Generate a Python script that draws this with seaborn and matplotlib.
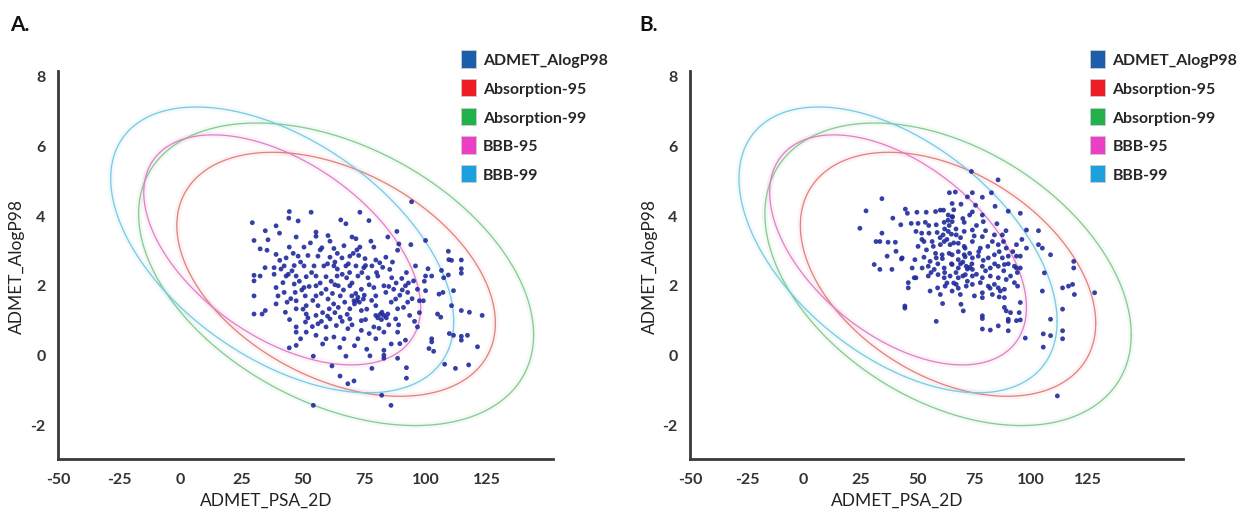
import numpy as np
import pandas as pd
import matplotlib
matplotlib.use("Agg")
import matplotlib.pyplot as plt
from matplotlib.patches import Patch
import seaborn as sns

# ---- scatter data: (PSA_2D, AlogP98) per compound ----
psa_a = [94.3, 44.4, 53.3, 73.2, 29.3, 48, 44.2, 65.4, 67.5, 76.9, 39, 34.6, 40.4, 47.2, 55.3, 55.3, 60.2, 61, 70, 71.6,
         77.7, 84.6, 88.3, 89.1, 94, 100, 30, 35.7, 44.4, 50.4, 57.7, 62.6, 66.7, 73.2, 78.9, 88.6, 109.3, 32.5, 35.3, 39,
         43.1, 48, 52, 56.1, 61, 65.9, 69.1, 72.7, 75.3, 79.7, 83.8, 109.5, 110.6, 114.6, 106.5, 109.3, 114.6, 114.6, 101, 100,
         95.9, 92.2, 85.4, 81.3, 78.1, 74.8, 71.6, 67.5, 62.6, 58.5, 54.5, 50.4, 46.4, 42.3, 38.2, 34.5, 30, 30, 32.5, 38.2,
         43.1, 47.2, 51.3, 55.3, 59.4, 63.9, 67.8, 72.4, 76.5, 80.5, 86.2, 90.3, 95.1, 102.5, 107.4, 30, 30, 33.3, 34.6, 39,
         39.8, 39, 41.8, 42.3, 42.8, 46.4, 46.8, 47.2, 47.2, 50.4, 50.9, 51.3, 51.3, 51, 47.2, 47.2, 51.3, 55.3, 55.3, 56.1,
         55.3, 56.1, 55.3, 59.4, 60.2, 60.7, 61, 59.4, 59.4, 64.4, 65.2, 64.4, 65.2, 63.6, 62.6, 69.1, 69.9, 70.8, 72.4, 69.1,
         69.1, 68.3, 66.7, 73.8, 74.6, 73.8, 73.8, 73.8, 72.4, 78.9, 79.7, 79.7, 79.7, 78.9, 79.7, 83, 83.8, 82.2, 83, 84.6,
         83, 83, 87, 87.8, 88.6, 87.8, 88.6, 89.5, 91.8, 92.7, 92.7, 93.5, 91.8, 96.7, 97.5, 96.7, 99.1, 100, 105.5, 107.1,
         104.9, 106.2, 110.6, 111.4, 114.6, 117.9, 123.1, 102.5, 102.5, 101.4, 103.3, 109.7, 111.4, 114.6, 117.1, 114.6, 121.2, 107.8,
         112.2, 117.6, 92.2, 92.2, 88.6, 83, 83, 78.1, 77.3, 67.5, 61.8, 65.1, 68.3, 70.8, 54.2, 44.4, 47.2, 82.1, 85.9, 54.2,
         45.5, 48.5, 49.5, 52.5, 53.5, 54, 57, 57.5, 58, 61.5, 62, 62.5, 63, 64, 66, 66.5, 67, 68, 70, 71,
         71.5, 72, 73, 74, 75, 76, 77, 78, 80.5, 81.5, 82, 84, 85, 86, 88, 89.5, 90.5, 93, 45, 44,
         41, 40.5, 46, 49, 53, 57, 60, 64, 68.5, 70.5, 72, 75.5, 80, 82.5, 86.5, 50, 52, 53.8, 57.5, 60,
         63, 66, 70, 75.5, 77, 81, 85, 89, 91, 94.5, 95.5, 97.5, 99.5, 43.5, 44.5, 49, 58, 65, 71, 76,
         86, 63, 69]
alogp_a = [4.38, 4.10, 4.08, 4.08, 3.78, 3.83, 3.91, 3.86, 3.75, 3.84, 3.69, 3.55, 3.48, 3.37, 3.51, 3.39, 3.41, 3.25, 3.37, 3.32,
           3.25, 3.37, 3.53, 3.17, 3.15, 3.27, 3.27, 3.29, 3.08, 3.08, 3.06, 3.04, 3.12, 3.08, 3.08, 2.99, 2.96, 3.03, 2.99, 2.87,
           2.77, 2.82, 2.84, 2.82, 2.79, 2.77, 2.82, 2.84, 2.75, 2.71, 2.79, 2.72, 2.70, 2.71, 2.41, 2.28, 2.46, 2.33, 2.46, 2.25,
           2.54, 2.35, 2.44, 2.63, 2.54, 2.49, 2.54, 2.54, 2.54, 2.54, 2.54, 2.54, 2.55, 2.54, 2.49, 2.49, 2.27, 2.11, 2.25, 2.3,
           2.25, 2.25, 2.23, 2.25, 2.23, 2.25, 2.20, 2.25, 2.20, 2.25, 2.20, 2.18, 2.11, 2.25, 2.2, 1.68, 1.16, 1.16, 1.26, 1.92,
           1.68, 1.45, 2.06, 1.78, 1.21, 2.02, 1.78, 1.54, 1.31, 1.92, 1.68, 1.40, 1.16, 0.93, 0.79, 0.64, 0.64, 1.97, 1.68, 1.40,
           1.12, 0.88, 0.55, 1.87, 1.59, 1.31, 1.02, 0.79, 0.45, 1.97, 1.68, 1.35, 1.07, 0.83, 0.50, 1.97, 1.68, 1.54, 1.64, 1.31,
           1.02, 0.74, 0.45, 1.87, 1.59, 1.26, 0.97, 0.69, 0.45, 1.92, 1.68, 1.40, 1.12, 0.79, 0.45, 1.97, 1.78, 1.21, 1.12, 1.16,
           0.64, 0.12, 1.87, 1.59, 1.31, 1.02, 0.64, 0.31, 1.97, 1.78, 1.50, 1.12, 0.41, 1.87, 1.54, 0.79, 1.54, 1.83, 1.73, 1.78,
           1.16, 1.07, 1.40, 1.83, 1.26, 1.21, 1.12, 0.45, 0.36, 0.17, 0.09, 0.60, 0.55, 0.52, 0.55, 0.41, 0.22, -0.28,
           -0.40, -0.30, -0.38, -0.68, -0.11, -0.02, -0.11, -0.40, -0.04, -0.05, -0.33, -0.62, -0.84, -0.76, -0.05, 0.19, 0.26, -1.17, -1.46, -1.46,
           2.4, 2.1, 1.85, 1.95, 2.35, 1.55, 2.05, 1.75, 1.2, 2.1, 1.75, 1.45, 2.65, 2.9, 2.3, 1.85, 1.5, 1.15, 2.05, 1.45,
           1.75, 1.55, 1.5, 2.35, 1.7, 1.3, 2.0, 1.55, 1.05, 1.15, 1.0, 1.05, 1.95, 1.5, 2.05, 1.7, 1.85, 2.05, 1.6, 2.3,
           2.45, 2.7, 2.9, 2.65, 3.2, 3.0, 2.6, 2.45, 2.6, 2.9, 3.0, 2.55, 2.35, 2.5, 2.65, 1.3, 1.05, 0.8, 0.95, 1.1,
           1.2, 0.95, 0.85, 1.0, 0.6, 0.75, 0.85, 0.85, 1.35, 1.6, 0.95, 1.2, 2.1, 1.5, 1.0, 0.45, 0.3, 0.2, 0.25, 0.15,
           0.3, 2.0, 2.35]

psa_b = [73.8, 85.5, 34.4, 64.1, 66.7, 74.2, 82.6, 78.6, 72, 65.3, 69.2, 75.6, 84.2, 27.4, 44.7, 45.6, 49.8, 53.9, 60.1, 61.5,
         74.2, 90, 95.3, 63.6, 65.3, 78.6, 39.2, 42.7, 47.3, 50.3, 53.5, 58.3, 61.8, 65.3, 70.6, 79, 24.7, 34.4, 31.8, 33.5,
         37.1, 40.3, 49.4, 51.9, 55.1, 58.7, 61.3, 63.6, 67.1, 70.6, 74.2, 78.6, 83.9, 87.4, 98, 103.3, 50.3, 52.9, 56.5, 60.1,
         61.8, 64.4, 68, 70.6, 74.2, 77.7, 83, 85.6, 87.9, 89.1, 93.6, 98, 103.3, 105, 31, 36.7, 40.6, 43.3, 33.5, 43,
         48.9, 52.9, 55.6, 58.3, 60.9, 65.3, 68, 70.6, 74.2, 76.8, 81.2, 83.9, 87.4, 90, 93.6, 95.3, 108.6, 38.8, 47.7, 52.1,
         54.8, 57.4, 61.8, 65.3, 68, 71.5, 74.2, 78.6, 82.1, 85.6, 88.3, 92.7, 93.6, 95.3, 118.8, 118.8, 105.9, 49.4, 54.8, 59.1,
         61.8, 64.4, 68, 71.1, 74.2, 78.6, 82.1, 85.6, 89.1, 48.6, 46, 46, 58.9, 62.2, 67.1, 71.5, 74.2, 77.7, 81.2, 83.9,
         85.6, 88.3, 92.7, 94.1, 118.3, 116.5, 113.9, 105, 128, 119.1, 55.6, 60.1, 65.3, 68.9, 75.1, 78.6, 83, 86.5, 88.3, 95.3,
         61.1, 69.2, 70.2, 78.6, 88.3, 89.1, 91, 94.8, 44.5, 44.5, 78.6, 78.6, 90, 90, 93.6, 95.3, 108.6, 113.9, 58.3, 78.6,
         82.1, 85.6, 90, 97.5, 105.4, 108.6, 113.9, 113.9, 105.4, 111.6,
         62, 63, 64, 65, 66, 67, 68, 69, 70, 71, 72, 73, 74, 75, 76, 57, 58, 59, 60, 61,
         62, 63, 64, 65, 66, 67, 68, 69, 70, 71, 72, 73, 77, 79, 80, 81, 84, 86, 88, 90,
         92, 94, 96, 56, 54, 52, 55, 58, 66, 70, 73, 76, 80, 85, 89, 91, 86, 82, 65.5, 63.5]
alogp_b = [5.25, 5.01, 4.47, 4.64, 4.66, 4.64, 4.64, 4.51, 4.52, 4.33, 4.31, 4.28, 4.25, 4.12, 4.17, 4.05, 4.08, 4.08, 4.14, 4.14,
           4.09, 4.11, 4.05, 4.0, 3.95, 4.0, 3.91, 3.72, 3.76, 3.76, 3.79, 3.72, 3.79, 3.81, 3.79, 3.81, 3.62, 3.48, 3.24, 3.24,
           3.22, 3.22, 3.53, 3.48, 3.48, 3.50, 3.43, 3.53, 3.43, 3.53, 3.57, 3.38, 3.43, 3.43, 3.57, 3.55, 3.10, 3.24, 3.24, 3.15,
           3.24, 3.15, 3.19, 3.10, 3.24, 3.05, 3.24, 3.15, 3.24, 3.05, 3.15, 3.05, 3.15, 3.05, 2.58, 2.82, 2.96, 2.77, 2.44, 2.74,
           2.72, 2.79, 2.67, 2.77, 2.86, 2.86, 2.72, 2.86, 2.77, 2.82, 2.77, 2.86, 2.77, 2.82, 2.82, 2.82, 2.86, 2.44, 2.48, 2.48,
           2.53, 2.44, 2.48, 2.58, 2.48, 2.53, 2.44, 2.53, 2.48, 2.53, 2.58, 2.53, 2.48, 2.48, 2.67, 2.48, 2.34, 2.20, 2.25, 2.29,
           2.20, 2.25, 2.20, 2.29, 2.25, 2.20, 2.25, 2.20, 2.15, 2.20, 2.06, 1.91, 1.91, 1.96, 2.01, 1.96, 2.01, 2.06, 1.96, 2.01,
           1.91, 1.87, 2.06, 1.96, 2.01, 1.96, 1.91, 1.82, 1.77, 1.72, 1.82, 1.72, 1.82, 1.72, 1.68, 1.77, 1.72, 1.82, 1.63, 1.49,
           1.46, 1.44, 1.25, 1.63, 1.35, 1.25, 1.20, 1.20, 1.39, 1.33, 1.11, 1.03, 1.01, 0.95, 0.97, 0.99, 1.01, 1.30, 0.95, 0.73,
           0.70, 0.82, 0.68, 0.47, 0.59, 0.54, 0.68, 0.45, 0.21, -1.19,
           3.6, 3.3, 3.7, 3.45, 3.2, 3.6, 2.95, 3.35, 2.65, 3.05, 2.45, 2.9, 2.6, 3.4, 2.3, 3.1, 2.9, 2.6, 3.35, 2.75,
           2.35, 2.05, 2.9, 2.6, 2.05, 2.35, 1.9, 2.6, 2.25, 2.8, 2.1, 2.5, 2.95, 2.7, 2.4, 3.1, 2.6, 2.95, 2.4, 2.6,
           2.95, 2.35, 3.3, 2.35, 3.0, 3.3, 3.7, 4.1, 4.15, 3.9, 4.0, 3.7, 3.55, 3.75, 3.55, 2.25, 1.65, 1.9, 3.95, 3.85]

# ---- confidence ellipses: centre, half-widths and x/y phase coupling ----
ellipse_names = ["Absorption-95", "Absorption-99", "BBB-95", "BBB-99"]
ellipse_cx = [63.5, 63.5, 41.5, 41.5]
ellipse_cy = [2.3, 2.3, 3.0, 3.0]
ellipse_ax = [65.0, 80.6, 56.5, 70.0]
ellipse_ay = [3.5, 4.34, 3.3, 4.1]
ellipse_cos = [-0.40, -0.40, -0.50, -0.50]
ellipse_colors = ["#e47b7b", "#82c890", "#e07cc6", "#74c8e4"]

legend_labels = ["ADMET_AlogP98", "Absorption-95", "Absorption-99", "BBB-95", "BBB-99"]
legend_colors = ["#1b5eab", "#ee1c24", "#22b24c", "#ec3fc6", "#1ca0df"]

x_ticks = [-50, -25, 0, 25, 50, 75, 100, 125]
y_ticks = [-2, 0, 2, 4, 6, 8]

sns.set_theme(style="white")
plt.rcParams["font.family"] = ["Lato", "DejaVu Sans"]

fig = plt.figure(figsize=(12.39, 5.10), dpi=100)
ax_a = fig.add_axes([0.0468, 0.098, 0.3995, 0.760])
ax_b = fig.add_axes([0.557, 0.098, 0.398, 0.760])

t = np.linspace(0, 2 * np.pi, 400)
ell_frames = []
for name, cx, cy, a, b, c in zip(ellipse_names, ellipse_cx, ellipse_cy, ellipse_ax, ellipse_ay, ellipse_cos):
    phi = np.arccos(c)
    ell_frames.append(pd.DataFrame({"x": cx + a * np.cos(t),
                                    "y": cy + b * np.cos(t + phi),
                                    "ellipse": name}))
ell_df = pd.concat(ell_frames, ignore_index=True)


def draw_panel(ax, psa, alogp, xlim, ylim):
    pal = dict(zip(ellipse_names, ellipse_colors))
    # soft halo under each ellipse, then the thin curve
    sns.lineplot(data=ell_df, x="x", y="y", hue="ellipse", units="ellipse", estimator=None,
                 sort=False, palette=pal, lw=4.5, alpha=0.09, legend=False, ax=ax)
    sns.lineplot(data=ell_df, x="x", y="y", hue="ellipse", units="ellipse", estimator=None,
                 sort=False, palette=pal, lw=0.95, alpha=0.95, legend=False, ax=ax)
    pts = pd.DataFrame({"psa": psa, "alogp": alogp})
    sns.scatterplot(data=pts, x="psa", y="alogp", color="#1f2a9c", s=12,
                    edgecolor="none", alpha=0.9, ax=ax, zorder=3)
    ax.set_xlim(*xlim)
    ax.set_ylim(*ylim)
    ax.set_xticks(x_ticks)
    ax.set_yticks(y_ticks)
    ax.set_xticklabels([str(v) for v in x_ticks], fontsize=11.5, fontweight="bold", color="#333333")
    ax.set_yticklabels([str(v) for v in y_ticks], fontsize=11.5, fontweight="bold", color="#333333")
    ax.tick_params(axis="both", length=3, width=0.8, color="#bbbbbb", pad=6)
    ax.set_xlabel("ADMET_PSA_2D", fontsize=12.5, color="#222222")
    ax.set_ylabel("ADMET_AlogP98", fontsize=12.5, color="#222222")
    ax.xaxis.set_label_coords(0.42, -0.085)
    ax.yaxis.set_label_coords(-0.066, 0.5)
    for side in ["top", "right"]:
        ax.spines[side].set_visible(False)
    for side in ["left", "bottom"]:
        ax.spines[side].set_color("#3a3a3a")
        ax.spines[side].set_linewidth(2.0)
    ax.grid(False)
    ax.set_facecolor("white")


draw_panel(ax_a, psa_a, alogp_a, (-50, 152), (-3.0, 8.12))
draw_panel(ax_b, psa_b, alogp_b, (-50, 167), (-3.0, 8.12))

fig.text(0.008, 0.951, "A.", fontsize=15, fontweight="bold", color="#111111", va="center")
fig.text(0.516, 0.951, "B.", fontsize=15, fontweight="bold", color="#111111", va="center")

handles = [Patch(facecolor=c, edgecolor="#cccccc", linewidth=0.6) for c in legend_colors]
for x0 in (0.3655, 0.8735):
    fig.legend(handles, legend_labels, loc="upper left", bbox_to_anchor=(x0, 0.915),
               frameon=False, handlelength=0.95, handleheight=1.3,
               handletextpad=0.45, labelspacing=0.72, borderpad=0.0,
               prop={"weight": "bold", "size": 11.4})

fig.savefig("out.png", dpi=100, facecolor="white")
